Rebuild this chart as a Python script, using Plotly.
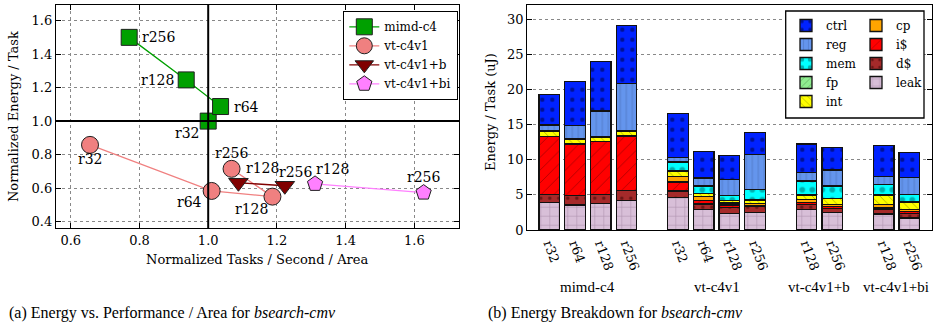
import plotly.graph_objects as go

# ---------------- Left panel data ----------------
pt_labels = ["r32", "r64", "r128", "r256"]
mimd_x = [1.00, 1.036, 0.936, 0.77]
mimd_y = [1.00, 1.087, 1.246, 1.50]
vt_x = [0.656, 1.01, 1.187, 1.068]
vt_y = [0.858, 0.583, 0.549, 0.715]
vtb_labels = ["r128", "r256"]
vtb_x = [1.088, 1.223]
vtb_y = [0.632, 0.614]
vtbi_labels = ["r128", "r256"]
vtbi_x = [1.311, 1.627]
vtbi_y = [0.625, 0.573]

# ---------------- Right panel data ----------------
groups = ["mimd-c4", "vt-c4v1", "vt-c4v1+b", "vt-c4v1+bi"]
group_cfgs = [["r32", "r64", "r128", "r256"],
              ["r32", "r64", "r128", "r256"],
              ["r128", "r256"],
              ["r128", "r256"]]
leak = [3.9, 3.55, 3.8, 4.25, 4.65, 2.95, 2.4, 2.5, 2.9, 2.45, 2.3, 1.7]
dcache = [1.2, 1.35, 1.25, 1.35, 0.9, 0.75, 0.85, 0.8, 0.7, 0.65, 0.7, 0.7]
icache = [8.2, 7.35, 7.6, 7.8, 1.3, 0.55, 0.3, 0.2, 0.3, 0.2, 0.25, 0.2]
cp = [0.0, 0.0, 0.0, 0.0, 0.8, 0.55, 0.3, 0.3, 0.4, 0.35, 0.35, 0.3]
intu = [0.7, 0.6, 0.5, 0.6, 0.7, 0.35, 0.35, 0.45, 0.7, 0.8, 1.35, 1.1]
fp = [0.05, 0.05, 0.05, 0.05, 0.05, 0.05, 0.05, 0.05, 0.05, 0.05, 0.05, 0.05]
mem = [0.1, 0.05, 0.05, 0.05, 1.3, 1.05, 0.7, 1.5, 1.95, 1.75, 1.5, 1.05]
reg = [0.8, 1.9, 3.7, 6.8, 0.65, 1.15, 2.2, 5.0, 1.2, 2.3, 1.1, 2.4]
ctrl = [4.4, 6.3, 7.1, 8.25, 6.2, 3.8, 3.5, 3.1, 4.05, 3.25, 4.45, 3.5]

W, H = 937, 328
SERIF = "DejaVu Serif"
CAP = "Liberation Serif"

def px_x(p):
    return p / W

def px_y(p):
    return 1 - p / H

fig = go.Figure()

# ---------------- Left panel ----------------
left_series = [
    ("mimd-c4", mimd_x, mimd_y, pt_labels, "square", 16, "#00a000", "#00a000"),
    ("vt-c4v1", vt_x, vt_y, pt_labels, "circle", 17, "#f08080", "#f08080"),
    ("vt-c4v1+b", vtb_x, vtb_y, vtb_labels, "triangle-down", 17, "#800000", "#800000"),
    ("vt-c4v1+bi", vtbi_x, vtbi_y, vtbi_labels, "pentagon", 16, "#ff80ff", "#ff80ff"),
]
for name, xs, ys, lbls, sym, sz, col, lcol in left_series:
    fig.add_trace(go.Scatter(
        x=xs, y=ys, mode="lines+markers", name=name,
        line=dict(color=lcol, width=1.3),
        marker=dict(symbol=sym, size=sz, color=col, line=dict(color="#202020", width=1)),
        xaxis="x", yaxis="y", legend="legend"))

# point label offsets (pixels) – styling only
label_shift = {
    ("mimd-c4", "r32"): (-21, -12), ("mimd-c4", "r64"): (26, 0),
    ("mimd-c4", "r128"): (-29, 0), ("mimd-c4", "r256"): (30, 0),
    ("vt-c4v1", "r32"): (0, -14), ("vt-c4v1", "r64"): (-22, -11),
    ("vt-c4v1", "r128"): (-21, -12), ("vt-c4v1", "r256"): (0, 16),
    ("vt-c4v1+b", "r128"): (24, 15), ("vt-c4v1+b", "r256"): (11, 14),
    ("vt-c4v1+bi", "r128"): (17, 15), ("vt-c4v1+bi", "r256"): (0, 16),
}
annotations = []
for name, xs, ys, lbls, *_ in left_series:
    for xv, yv, lb in zip(xs, ys, lbls):
        dx, dy = label_shift[(name, lb)]
        annotations.append(dict(x=xv, y=yv, xref="x", yref="y", text=lb, showarrow=False,
                                xanchor="center", yanchor="middle",
                                xshift=dx, yshift=dy, font=dict(family=SERIF, size=14, color="black")))

# ---------------- Right panel ----------------
positions, ticktext, group_centers = [], [], []
pos = 0
for g, cfgs in zip(groups, group_cfgs):
    start = pos
    for c in cfgs:
        positions.append(pos)
        ticktext.append(c)
        pos += 1
    group_centers.append((start + pos - 1) / 2)
    pos += 1

components = [
    # name, values, color, pattern shape, fg, size, solidity, legend, rank
    ("leak", leak, "#d8bfd8", "+", "#806080", 9, 0.12, "legend3", 9),
    ("d$", dcache, "#a52a2a", ".", "#300000", 9, 0.12, "legend3", 8),
    ("i$", icache, "#ff0000", "/", "#400000", 9, 0.08, "legend3", 7),
    ("cp", cp, "#ffa500", "", "black", 8, 0.1, "legend3", 6),
    ("int", intu, "#ffff00", "\\", "#404000", 6, 0.12, "legend2", 5),
    ("fp", fp, "#90ee90", "/", "#204020", 6, 0.12, "legend2", 4),
    ("mem", mem, "#00ffff", ".", "#006060", 10, 0.25, "legend2", 3),
    ("reg", reg, "#6495ed", "|", "#203060", 6, 0.08, "legend2", 2),
    ("ctrl", ctrl, "#0022ff", ".", "#000030", 10, 0.15, "legend2", 1),
]
for name, vals, col, shp, fg, psz, sol, lg, rank in components:
    mk = dict(color=col, line=dict(color="#111111", width=1.3))
    if shp:
        mk["pattern"] = dict(shape=shp, fgcolor=fg, size=psz, solidity=sol, fillmode="overlay")
    fig.add_trace(go.Bar(
        x=positions, y=vals, name=name, marker=mk,
        xaxis="x2", yaxis="y2", legend=lg, legendrank=rank))

for gname, gc in zip(groups, group_centers):
    annotations.append(dict(x=gc, y=px_y(287), xref="x2", yref="paper", text=gname,
                            xanchor="center", yanchor="middle",
                            showarrow=False, font=dict(family=CAP, size=15, color="black")))

# axis titles and captions
annotations += [
    dict(x=px_x(13), y=px_y(117), xref="paper", yref="paper", text="Normalized Energy / Task",
         xanchor="center", yanchor="middle",
         textangle=-90, showarrow=False, font=dict(family=SERIF, size=13, color="black")),
    dict(x=px_x(257), y=px_y(259), xref="paper", yref="paper", text="Normalized Tasks / Second / Area",
         xanchor="center", yanchor="middle",
         showarrow=False, font=dict(family=SERIF, size=13, color="black")),
    dict(x=px_x(490), y=px_y(112), xref="paper", yref="paper", text="Energy / Task (uJ)",
         xanchor="center", yanchor="middle",
         textangle=-90, showarrow=False, font=dict(family=SERIF, size=13, color="black")),
    dict(x=px_x(7), y=px_y(313), xref="paper", yref="paper", xanchor="left", yanchor="middle",
         text="(a) Energy vs. Performance / Area for <i>bsearch-cmv</i>",
         showarrow=False, font=dict(family=CAP, size=16, color="black")),
    dict(x=px_x(486), y=px_y(313), xref="paper", yref="paper", xanchor="left", yanchor="middle",
         text="(b) Energy Breakdown for <i>bsearch-cmv</i>",
         showarrow=False, font=dict(family=CAP, size=16, color="black")),
]

axis_common = dict(showline=True, linecolor="black", linewidth=1.3, mirror="ticks",
                   ticks="inside", ticklen=5, tickcolor="black", zeroline=False, automargin=False,
                   tickfont=dict(family=SERIF, size=13, color="black"))

fig.update_layout(
    template="none",
    width=W, height=H, margin=dict(l=0, r=0, t=0, b=0, pad=0, autoexpand=False),
    paper_bgcolor="white", plot_bgcolor="white",
    barmode="stack", bargap=0.2,
    showlegend=True,
    xaxis=dict(domain=[px_x(56), px_x(459)], range=[0.557, 1.73], tickvals=[0.6, 0.8, 1.0, 1.2, 1.4, 1.6],
               tickformat=".1f", showgrid=True, gridcolor="#888888", griddash="dot", gridwidth=1,
               anchor="y", **axis_common),
    yaxis=dict(domain=[px_y(228.3), px_y(4.7)], range=[0.36, 1.695], tickvals=[0.4, 0.6, 0.8, 1.0, 1.2, 1.4, 1.6],
               tickformat=".1f", showgrid=True, gridcolor="#888888", griddash="dot", gridwidth=1,
               anchor="x", **axis_common),
    xaxis2=dict(domain=[px_x(527.3), px_x(931.7)], range=[-0.86, 14.87], tickvals=positions, ticktext=ticktext,
                tickangle=70, showgrid=False, anchor="y2", automargin=False,
                showline=True, linecolor="black", linewidth=1.3, mirror=True, ticks="", zeroline=False,
                tickfont=dict(family=SERIF, size=13, color="black")),
    yaxis2=dict(domain=[px_y(230), px_y(4.7)], range=[0, 32.1], dtick=5, showgrid=True,
                gridcolor="#888888", griddash="dot", gridwidth=1, anchor="x2", **axis_common),
    legend=dict(x=px_x(343), y=px_y(11), xanchor="left", yanchor="top", bgcolor="white",
                bordercolor="black", borderwidth=1.3, tracegroupgap=0,
                font=dict(family=SERIF, size=12, color="black")),
    legend2=dict(x=px_x(786), y=px_y(11), xanchor="left", yanchor="top", bgcolor="rgba(0,0,0,0)",
                 borderwidth=0, traceorder="normal", font=dict(family=SERIF, size=12, color="black")),
    legend3=dict(x=px_x(856), y=px_y(11), xanchor="left", yanchor="top", bgcolor="rgba(0,0,0,0)",
                 borderwidth=0, traceorder="normal", font=dict(family=SERIF, size=12, color="black")),
    annotations=annotations,
    shapes=[
        dict(type="line", xref="x", yref="y domain", x0=1.0, x1=1.0, y0=0, y1=1,
             line=dict(color="black", width=2), layer="above"),
        dict(type="line", xref="x domain", yref="y", x0=0, x1=1, y0=1.0, y1=1.0,
             line=dict(color="black", width=2), layer="above"),
        dict(type="rect", xref="paper", yref="paper", x0=px_x(785.7), x1=px_x(924),
             y0=px_y(118), y1=px_y(11), fillcolor="white", line=dict(color="black", width=1.3),
             layer="above"),
    ],
)

fig.write_html("out.html")
